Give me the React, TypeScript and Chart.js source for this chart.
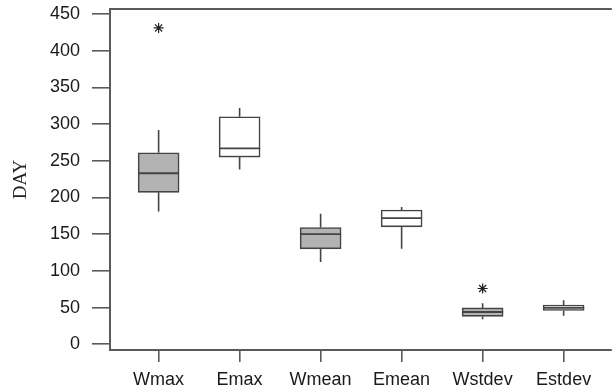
import React, { useEffect, useRef } from "react";
import { Chart, registerables } from "chart.js";

Chart.register(...registerables);

const categories = ["Wmax", "Emax", "Wmean", "Emean", "Wstdev", "Estdev"];
const whiskerLow = [181, 238, 112, 130, 34, 39];
const q1 = [207, 255, 130, 160, 38, 46];
const median = [233, 267, 150, 172, 44, 49.5];
const q3 = [261, 310, 159, 183, 49.5, 53.5];
const whiskerHigh = [292, 322, 178, 187, 56, 60];
const outlierCat = [1, 5];
const outlierVal = [431, 76];
const yTicks = [0, 50, 100, 150, 200, 250, 300, 350, 400, 450];
const boxFill = ["#b3b3b3", "#ffffff", "#b3b3b3", "#ffffff", "#b3b3b3", "#ffffff"];

const LINE = "#444444";
const FRAME = "#5a5a5a";
const BOX_W = 41;

const boxPlugin = {
  id: "boxParts",
  afterDatasetsDraw(chart: any) {
    const { ctx, scales } = chart;
    const xs = scales.x;
    const ys = scales.y;
    ctx.save();
    ctx.strokeStyle = LINE;
    categories.forEach((_, i) => {
      const x = xs.getPixelForValue(i + 1);
      ctx.lineWidth = 1.6;
      ctx.beginPath();
      ctx.moveTo(x, ys.getPixelForValue(q3[i]));
      ctx.lineTo(x, ys.getPixelForValue(whiskerHigh[i]));
      ctx.moveTo(x, ys.getPixelForValue(q1[i]));
      ctx.lineTo(x, ys.getPixelForValue(whiskerLow[i]));
      ctx.stroke();
      ctx.beginPath();
      ctx.lineWidth = 1.8;
      const my = ys.getPixelForValue(median[i]);
      ctx.moveTo(x - BOX_W / 2, my);
      ctx.lineTo(x + BOX_W / 2, my);
      ctx.stroke();
    });
    ctx.restore();
  },
  afterDraw(chart: any) {
    const { ctx, chartArea } = chart;
    ctx.save();
    ctx.strokeStyle = FRAME;
    ctx.lineWidth = 2;
    ctx.beginPath();
    ctx.moveTo(chartArea.right + 2, chartArea.top);
    ctx.lineTo(chartArea.left, chartArea.top);
    ctx.lineTo(chartArea.left, chartArea.bottom);
    ctx.lineTo(chartArea.right + 2, chartArea.bottom);
    ctx.stroke();
    ctx.restore();
  },
};

export default function App() {
  const ref = useRef<HTMLCanvasElement>(null);
  useEffect(() => {
    document.body.style.margin = "0";
    const canvas = ref.current!;
    const chart = new Chart(canvas, {
      type: "bar",
      data: {
        datasets: [
          {
            type: "bar",
            data: categories.map((_, i) => ({ x: i + 1, y: [q1[i], q3[i]] })) as any,
            backgroundColor: boxFill,
            borderColor: LINE,
            borderWidth: 1.6,
            borderSkipped: false,
            barThickness: BOX_W,
            grouped: false,
          } as any,
          {
            type: "scatter",
            data: outlierCat.map((c, i) => ({ x: c, y: outlierVal[i] })),
            pointStyle: "star",
            radius: 5,
            borderColor: "#222",
            borderWidth: 1.2,
            backgroundColor: "#222",
          } as any,
        ],
      },
      options: {
        responsive: false,
        animation: false,
        devicePixelRatio: 1,
        layout: { padding: { top: 9, right: 0, left: 0, bottom: 0 } },
        plugins: { legend: { display: false }, tooltip: { enabled: false } },
        scales: {
          x: {
            type: "linear",
            offset: false,
            min: 0.4,
            max: 6.57,
            afterBuildTicks: (scale: any) => {
              scale.ticks = categories.map((_, i) => ({ value: i + 1 }));
            },
            afterFit: (scale: any) => {
              scale.height = 39;
              scale.paddingLeft = 0;
              scale.paddingRight = 0;
            },
            ticks: {
              callback: (v: any) => categories[Number(v) - 1] ?? "",
              font: { family: "Liberation Sans", size: 18 },
              color: "#1a1a1a",
              padding: 7,
              maxRotation: 0,
              autoSkip: false,
            },
            grid: {
              offset: false,
              drawOnChartArea: false,
              drawTicks: true,
              tickLength: 12,
              color: FRAME,
              lineWidth: 1.6,
            },
            border: { display: false },
          },
          y: {
            type: "linear",
            min: -7.8,
            max: 456.8,
            afterBuildTicks: (scale: any) => {
              scale.ticks = yTicks.map((v) => ({ value: v }));
            },
            afterFit: (scale: any) => {
              scale.width = 110;
              scale.paddingTop = 0;
              scale.paddingBottom = 0;
            },
            ticks: {
              font: { family: "Liberation Sans", size: 18 },
              color: "#1a1a1a",
              padding: 12,
            },
            grid: {
              drawOnChartArea: false,
              drawTicks: true,
              tickLength: 18,
              color: FRAME,
              lineWidth: 1.6,
            },
            border: { display: false },
            title: {
              display: true,
              text: "DAY",
              font: { family: "Liberation Serif", size: 19 },
              color: "#222",
              padding: { top: 10, bottom: 0 },
            },
          },
        },
      },
      plugins: [boxPlugin],
    });
    return () => chart.destroy();
  }, []);
  return <canvas ref={ref} width={616} height={389} style={{ display: "block" }} />;
}
